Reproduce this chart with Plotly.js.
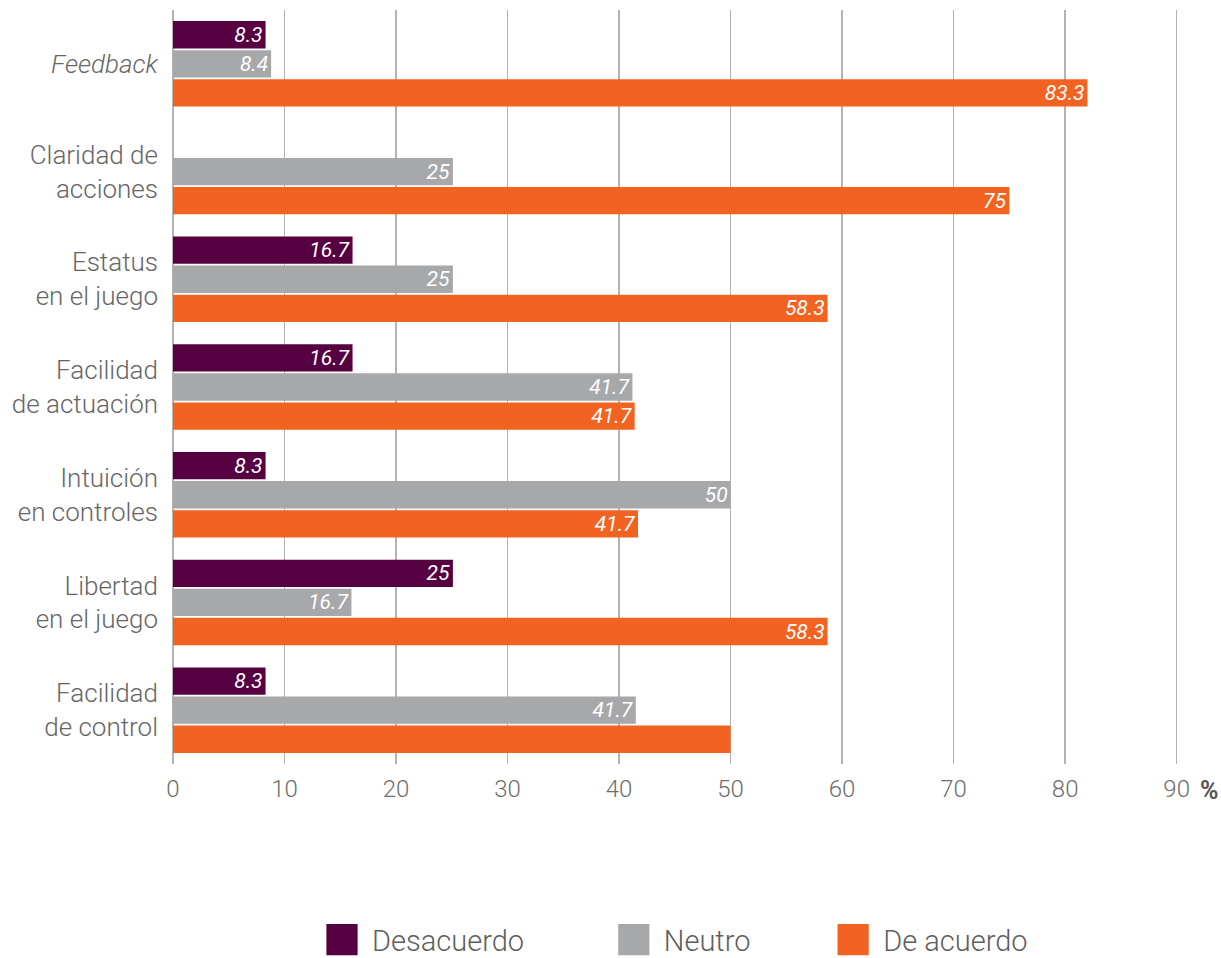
<!DOCTYPE html>
<html>
<head>
<meta charset="utf-8">
<script src="https://cdn.plot.ly/plotly-3.0.1.min.js"></script>
<style>html,body{margin:0;padding:0;background:#fff;}#chart{width:1221px;height:958px;}</style>
</head>
<body>
<div id="chart"></div>
<script>
const categories = ["<i>Feedback</i>", "Claridad de<br>acciones", "Estatus<br>en el juego", "Facilidad<br>de actuación", "Intuición<br>en controles", "Libertad<br>en el juego", "Facilidad<br>de control"];
const seriesNames = ["Desacuerdo", "Neutro", "De acuerdo"];
const desacuerdo = [8.3, null, 16.1, 16.1, 8.3, 25.1, 8.3];
const neutro = [8.8, 25.1, 25.1, 41.2, 50, 16.0, 41.5];
const deAcuerdo = [82.0, 75.0, 58.7, 41.4, 41.7, 58.7, 50];
const desacuerdoLabels = ["8.3", "", "16.7", "16.7", "8.3", "25", "8.3"];
const neutroLabels = ["8.4", "25", "25", "41.7", "50", "16.7", "41.7"];
const deAcuerdoLabels = ["83.3", "75", "58.3", "41.7", "41.7", "58.3", ""];
const xTicks = [0, 10, 20, 30, 40, 50, 60, 70, 80, 90];
const colors = ["#560041", "#a7a8aa", "#f26322"];

const FONT = "Roboto, 'Open Sans', sans-serif";
const values = [desacuerdo, neutro, deAcuerdo];
const labels = [desacuerdoLabels, neutroLabels, deAcuerdoLabels];
const legendPad = [12, 11, 0];

const traces = seriesNames.map((name, i) => ({
  type: "bar",
  orientation: "h",
  name: name + "\u00A0".repeat(legendPad[i]),
  y: categories,
  x: values[i],
  text: labels[i],
  textposition: "inside",
  insidetextanchor: "end",
  textangle: 0,
  constraintext: "none",
  insidetextfont: {family: FONT, size: 21, color: "#ffffff", style: "italic"},
  marker: {color: colors[i], line: {width: 0}},
  hoverinfo: "none"
}));

const layout = {
  width: 1221,
  height: 958,
  margin: {l: 173, r: 41, t: 10, b: 194, autoexpand: false},
  paper_bgcolor: "#ffffff",
  plot_bgcolor: "#ffffff",
  barmode: "group",
  bargap: 0.19,
  bargroupgap: 0.06,
  font: {family: FONT, color: "#666666"},
  xaxis: {
    range: [0, 90.3],
    tickvals: xTicks,
    ticktext: xTicks.map(String),
    showgrid: true,
    gridcolor: "#b3b3b3",
    gridwidth: 1.5,
    zeroline: true,
    zerolinecolor: "#b3b3b3",
    zerolinewidth: 1.5,
    showline: false,
    ticks: "",
    ticklabelstandoff: 8,
    tickfont: {family: FONT, size: 24, color: "#6d6d6d", weight: 300},
    fixedrange: true
  },
  yaxis: {
    autorange: "reversed",
    showgrid: false,
    zeroline: false,
    showline: false,
    ticks: "",
    ticklabelstandoff: 14,
    tickfont: {family: FONT, size: 26, color: "#666666", weight: 300},
    fixedrange: true
  },
  showlegend: true,
  legend: {
    orientation: "h",
    x: 0.501,
    xanchor: "center",
    yref: "container",
    y: 0.019,
    yanchor: "middle",
    font: {family: FONT, size: 29, color: "#5e5e5e", weight: 300},
    itemwidth: 40,
    traceorder: "normal"
  },
  annotations: [{
    xref: "paper", yref: "paper",
    x: 1.0, y: 0, xanchor: "left", yanchor: "top",
    xshift: 18, yshift: -10,
    text: "<b>%</b>",
    showarrow: false,
    font: {family: FONT, size: 25, color: "#555555"}
  }]
};

Plotly.newPlot("chart", traces, layout, {displayModeBar: false, staticPlot: true}).then(() => {
  document.querySelectorAll(".legendpoints path").forEach(p => {
    const t = p.getAttribute("transform") || "";
    p.setAttribute("transform", t + " translate(-5,0) scale(2.6)");
  });
});
</script>
</body>
</html>
